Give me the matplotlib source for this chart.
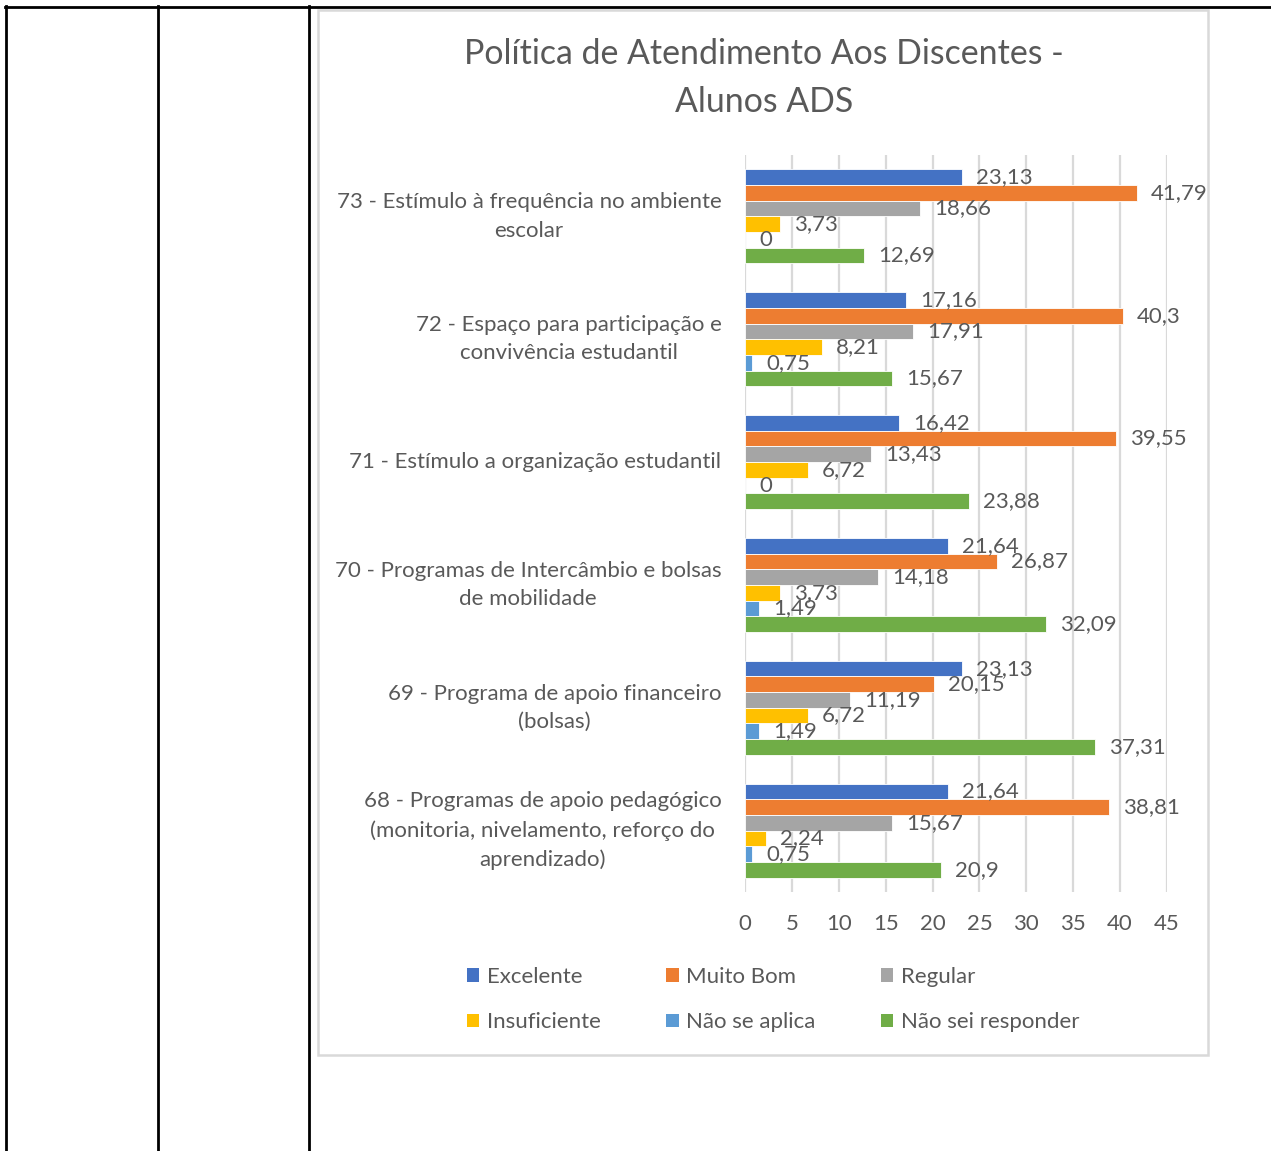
import matplotlib
matplotlib.use("Agg")
import matplotlib.pyplot as plt
from matplotlib.patches import Rectangle, Patch
from matplotlib.lines import Line2D

plt.rcParams['font.family'] = ['Lato', 'DejaVu Sans']

# categories, top to bottom as in the chart
categorias = [
    "73 - Estímulo à frequência no ambiente\nescolar",
    "72 - Espaço para participação e\nconvivência estudantil",
    "71 - Estímulo a organização estudantil",
    "70 - Programas de Intercâmbio e bolsas\nde mobilidade",
    "69 - Programa de apoio financeiro\n(bolsas)",
    "68 - Programas de apoio pedagógico\n(monitoria, nivelamento, reforço do\naprendizado)",
]

excelente = [23.13, 17.16, 16.42, 21.64, 23.13, 21.64]
muito_bom = [41.79, 40.3, 39.55, 26.87, 20.15, 38.81]
regular = [18.66, 17.91, 13.43, 14.18, 11.19, 15.67]
insuficiente = [3.73, 8.21, 6.72, 3.73, 6.72, 2.24]
nao_se_aplica = [0, 0.75, 0, 1.49, 1.49, 0.75]
nao_sei = [12.69, 15.67, 23.88, 32.09, 37.31, 20.9]

series = ["Excelente", "Muito Bom", "Regular", "Insuficiente",
          "Não se aplica", "Não sei responder"]
valores = [excelente, muito_bom, regular, insuficiente, nao_se_aplica, nao_sei]
cores = ["#4472C4", "#ED7D31", "#A5A5A5", "#FFC000", "#5B9BD5", "#70AD47"]

xticks = [0, 5, 10, 15, 20, 25, 30, 35, 40, 45]

texto = "#595959"
fs = 16

fig = plt.figure(figsize=(12.71, 11.51), dpi=100)

# table lines of the document around the chart
for x in [6, 158, 309]:
    fig.add_artist(Line2D([x / 1271, x / 1271], [0, 1 - 6 / 1151],
                          color="black", lw=2, transform=fig.transFigure))
fig.add_artist(Line2D([5 / 1271, 1], [1 - 7 / 1151, 1 - 7 / 1151],
                      color="black", lw=2, transform=fig.transFigure))

# chart area frame
fig.add_artist(Rectangle((318 / 1271, 1 - 1055 / 1151), 890 / 1271, 1045 / 1151,
                         fill=False, edgecolor="#d9d9d9", lw=1.8,
                         transform=fig.transFigure))

ax = fig.add_axes([745 / 1271, 1 - 892 / 1151, 422 / 1271, 737 / 1151])

n = len(categorias)
h = 0.1275
ypos = [n - 1 - i for i in range(n)]
for j, (nome, vals, cor) in enumerate(zip(series, valores, cores)):
    y = [p + (2.5 - j) * h for p in ypos]
    barras = ax.barh(y, vals, height=h, color=cor, edgecolor="white",
                     linewidth=0.6, label=nome, zorder=3)
    for b, v in zip(barras, vals):
        ax.annotate(f"{v:g}".replace(".", ","),
                    (b.get_width(), b.get_y() + b.get_height() / 2),
                    xytext=(10, 0), textcoords="offset points",
                    ha="left", va="center", fontsize=fs, color=texto,
                    zorder=4)

ax.set_xlim(0, 45)
ax.set_ylim(-0.5, n - 0.5)
ax.set_xticks(xticks)
ax.set_xticklabels([str(t) for t in xticks], fontsize=fs, color=texto)
ax.set_yticks(ypos)
ax.set_yticklabels(categorias, fontsize=fs, color=texto,
                   multialignment="center", linespacing=1.52, va="center")
ax.tick_params(axis="both", length=0)
ax.tick_params(axis="y", pad=17)
ax.tick_params(axis="x", pad=16)
ax.grid(axis="x", color="#d9d9d9", lw=1.6, zorder=0)
for s in ax.spines.values():
    s.set_visible(False)

fig.text(764 / 1271, 1 - 78 / 1151,
         "Política de Atendimento Aos Discentes -\nAlunos ADS",
         ha="center", va="center", fontsize=24.4, color=texto,
         linespacing=1.6)

# legend, row by row as in the chart
ordem = [0, 3, 1, 4, 2, 5]
alcas = [Patch(facecolor=cores[k], edgecolor="none") for k in ordem]
fig.legend(alcas, [series[k] for k in ordem], ncol=3,
           loc="upper left", bbox_to_anchor=(458 / 1271, 1 - 958 / 1151),
           frameon=False, fontsize=fs, labelcolor=texto,
           handlelength=0.55, handleheight=0.55, handletextpad=0.35,
           columnspacing=2.95, labelspacing=1.15, borderaxespad=0)

fig.savefig("out.png", dpi=100)
